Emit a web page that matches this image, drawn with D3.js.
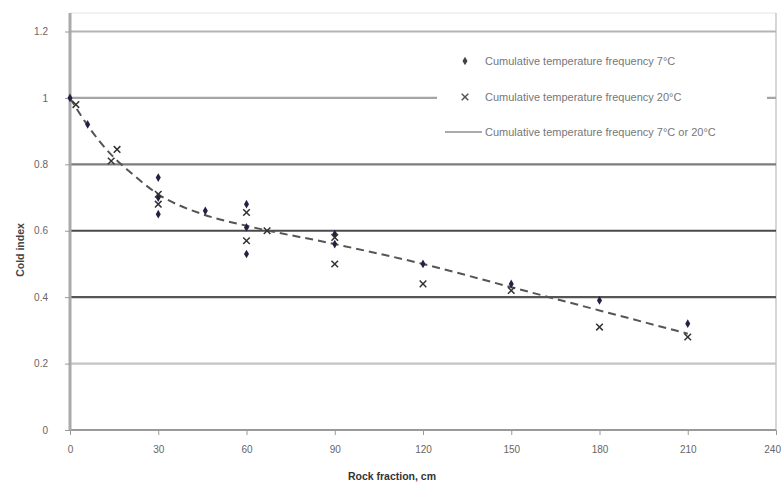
<!DOCTYPE html>
<html>
<head>
<meta charset="utf-8">
<script src="https://cdn.jsdelivr.net/npm/d3@7"></script>
<style>
  html, body { margin: 0; padding: 0; background: #fff; }
  svg { display: block; font-family: "Liberation Sans", Arial, sans-serif; }
</style>
</head>
<body>
<svg id="chart" width="781" height="485"></svg>
<script>
// Measurements at 7 °C: distance (cm) and index value
const dist7 = [0, 6, 30, 30, 30, 46, 60, 60, 60, 90, 90, 120, 150, 180, 210];
const val7  = [1.0, 0.92, 0.76, 0.70, 0.65, 0.66, 0.68, 0.61, 0.53, 0.59, 0.56, 0.50, 0.44, 0.39, 0.32];

// Measurements at 20 °C
const dist20 = [2, 14, 16, 30, 30, 60, 60, 67, 90, 90, 120, 150, 180, 210];
const val20  = [0.98, 0.81, 0.845, 0.68, 0.71, 0.655, 0.57, 0.60, 0.58, 0.50, 0.44, 0.42, 0.31, 0.28];

// Fitted curve for both temperatures
const fitDist = [0, 5, 10, 15, 20, 30, 45, 60, 90, 120, 150, 180, 210];
const fitVal  = [1.0, 0.93, 0.87, 0.82, 0.78, 0.71, 0.65, 0.615, 0.56, 0.50, 0.43, 0.36, 0.29];

const xTicks = [0, 30, 60, 90, 120, 150, 180, 210, 240];
const yTicks = [0, 0.2, 0.4, 0.6, 0.8, 1, 1.2];
const yTickLabels = ["0", "0.2", "0.4", "0.6", "0.8", "1", "1.2"];
const gridShade = ["#9a9a9a", "#c4c4c4", "#555555", "#4a4a4a", "#7d7d7d", "#a5a5a5", "#b4b4b4"];

const legendLabels = [
  "Cumulative temperature frequency 7°C",
  "Cumulative temperature frequency 20°C",
  "Cumulative temperature frequency 7°C or 20°C"
];

const svg = d3.select("#chart");
const plotLeft = 70, plotRight = 776, plotTop = 13, plotBottom = 430;

const x = d3.scaleLinear().domain([0, 240]).range([plotLeft, plotRight]);
const y = d3.scaleLinear().domain([0, 1.2]).range([plotBottom, 31.5]);

// plot frame
svg.append("line").attr("x1", plotLeft).attr("x2", plotRight).attr("y1", plotTop).attr("y2", plotTop)
  .attr("stroke", "#e4e4e4").attr("stroke-width", 1);
svg.append("line").attr("x1", plotRight).attr("x2", plotRight).attr("y1", plotTop).attr("y2", plotBottom)
  .attr("stroke", "#c8c8c8").attr("stroke-width", 1.5);

// horizontal gridlines
svg.append("g").selectAll("line").data(yTicks).join("line")
  .attr("x1", plotLeft).attr("x2", plotRight)
  .attr("y1", d => y(d)).attr("y2", d => y(d))
  .attr("stroke", (d, i) => gridShade[i])
  .attr("stroke-width", 2.2);

// y axis
const yAxis = svg.append("g").attr("transform", `translate(${plotLeft},0)`)
  .call(d3.axisLeft(y).tickValues(yTicks).tickFormat((d, i) => yTickLabels[i]).tickSize(5).tickPadding(17));
yAxis.select(".domain").attr("stroke", "#aaaaaa").attr("stroke-width", 3)
  .attr("d", `M0,${plotTop}V${plotBottom}`);
yAxis.selectAll(".tick line").attr("stroke", "#999");
yAxis.selectAll("text").attr("fill", "#666").attr("font-size", 10);

// x axis
const xAxis = svg.append("g").attr("transform", `translate(0,${plotBottom})`)
  .call(d3.axisBottom(x).tickValues(xTicks).tickSize(5).tickPadding(11));
xAxis.select(".domain").remove();
xAxis.selectAll(".tick line").attr("stroke", "#999");
xAxis.selectAll("text").attr("fill", "#666").attr("font-size", 10)
  .filter(d => d === 240).attr("text-anchor", "end").attr("dx", "0.45em");

// axis titles
svg.append("text").attr("x", 392).attr("y", 480).attr("text-anchor", "middle")
  .attr("font-size", 10.5).attr("font-weight", "bold").attr("fill", "#333")
  .text("Rock fraction, cm");
svg.append("text").attr("transform", "translate(24,250) rotate(-90)")
  .attr("text-anchor", "middle").attr("font-size", 10.5).attr("font-weight", "bold").attr("fill", "#444")
  .text("Cold index");

// legend box (white, hides gridline behind it)
svg.append("rect").attr("x", 437).attr("y", 42).attr("width", 330).attr("height", 108)
  .attr("fill", "#fff");

// fitted dashed curve
const line = d3.line().x(d => x(d[0])).y(d => y(d[1])).curve(d3.curveMonotoneX);
svg.append("path").datum(fitDist.map((d, i) => [d, fitVal[i]]))
  .attr("d", line).attr("fill", "none").attr("stroke", "#555")
  .attr("stroke-width", 2).attr("stroke-dasharray", "8,5");

// 7 °C points: small diamonds
const diamond = d3.symbol().type(d3.symbolDiamond).size(22);
svg.append("g").selectAll("path").data(dist7.map((d, i) => [d, val7[i]])).join("path")
  .attr("d", diamond)
  .attr("transform", d => `translate(${x(d[0])},${y(d[1])})`)
  .attr("fill", "#222244");

// 20 °C points: small crosses
const cross = d3.symbol().type(d3.symbolX).size(30);
svg.append("g").selectAll("path").data(dist20.map((d, i) => [d, val20[i]])).join("path")
  .attr("d", cross)
  .attr("transform", d => `translate(${x(d[0])},${y(d[1])})`)
  .attr("fill", "none").attr("stroke", "#333").attr("stroke-width", 1.5);

// legend entries
const lg = svg.append("g").attr("font-size", 11).attr("fill", "#777");
const ly = [61, 97, 132];
lg.append("path").attr("d", diamond).attr("transform", `translate(465,${ly[0]})`).attr("fill", "#444");
lg.append("path").attr("d", cross).attr("transform", `translate(465,${ly[1]})`)
  .attr("fill", "none").attr("stroke", "#555").attr("stroke-width", 1.5);
lg.append("line").attr("x1", 445).attr("x2", 482).attr("y1", ly[2]).attr("y2", ly[2])
  .attr("stroke", "#aaa").attr("stroke-width", 2);
lg.selectAll("text").data(legendLabels).join("text")
  .attr("x", 485).attr("y", (d, i) => ly[i] + 4)
  .text(d => d);
</script>
</body>
</html>
